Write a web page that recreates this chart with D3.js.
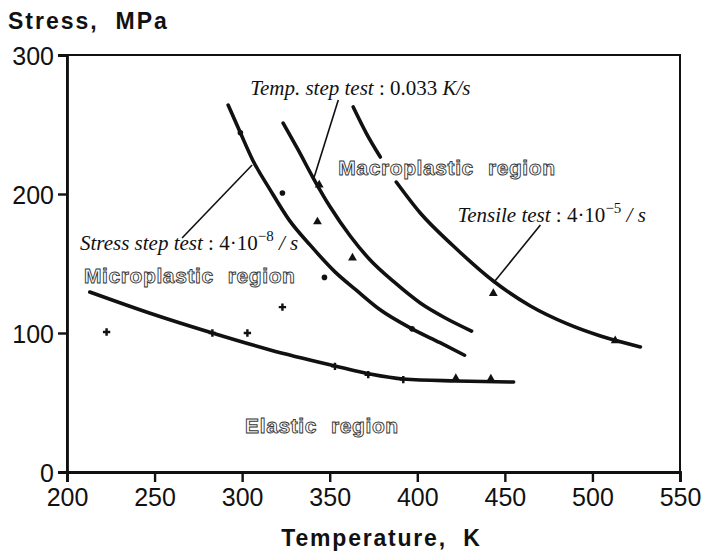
<!DOCTYPE html>
<html>
<head>
<meta charset="utf-8">
<script src="https://cdn.jsdelivr.net/npm/d3@7"></script>
<style>
  body { margin: 0; background: #fff; }
  svg { display: block; }
  .tick text { font-family: "Liberation Sans", Arial, sans-serif; }
</style>
</head>
<body>
<script>
// axis ticks
const xTicks = [200, 250, 300, 350, 400, 450, 500, 550];
const yTicks = [0, 100, 200, 300];

// fitted curves, [temperature K, stress MPa]
const microCurve = [[213, 129.5], [247, 114.4], [283, 100], [316, 87.8], [353, 76.3], [373, 70.5], [392, 66.9], [422, 65.5], [455, 64.7]];
const stressStepCurve = [[292, 264], [299, 244], [306, 224.5], [316, 203], [327, 181], [339, 163], [353, 144], [365, 131], [379, 116.5], [397, 103], [413, 93], [427, 84]];
const tempStepCurve = [[323.4, 251], [332, 231.7], [340.6, 211.5], [350.3, 190.6], [361.7, 169.8], [373.1, 152.5], [387.4, 136], [401.7, 121.6], [416, 110.8], [431, 101.4]];
const tensileTop = [[363.4, 262.6], [371, 243.5], [378.9, 226.6]];
const tensileCurve = [[388, 208.6], [401.7, 186.3], [420.6, 162.6], [443.4, 137.4], [464.6, 119.4], [485.7, 106.5], [504.6, 97.8], [527.4, 90]];

// measured points
const crossPts = [[222.6, 100.7], [283, 100], [303, 100], [323, 118.6], [353, 76], [372, 70], [392, 66.5]];
const dotPts = [[299, 244], [323, 200.7], [347, 140], [397, 103]];
const triPts = [[344, 206.5], [343, 180], [363, 154], [443.4, 128.5], [422, 67.3], [442, 67], [513, 94.5]];

// leader lines from the labels to the curves
const stressLeader = [[265.7, 168.3], [305.7, 220.9]];
const tempLeader = [[354.9, 267.6], [340.6, 210.1]];
const tensileLeader = [[470.3, 177.7], [443.4, 136]];

const width = 704, height = 554;
const margin = {top: 55, right: 24, bottom: 82, left: 67};

const svg = d3.select("body").append("svg")
    .attr("width", width)
    .attr("height", height);

const x = d3.scaleLinear().domain([200, 550]).range([margin.left, width - margin.right]);
const y = d3.scaleLinear().domain([0, 300]).range([height - margin.bottom, margin.top]);

// frame
svg.append("rect")
    .attr("x", x(200)).attr("y", y(300))
    .attr("width", x(550) - x(200)).attr("height", y(0) - y(300))
    .attr("fill", "none").attr("stroke", "#111").attr("stroke-width", 2);

const xAxis = svg.append("g")
    .attr("transform", `translate(0,${y(0)})`)
    .call(d3.axisBottom(x).tickValues(xTicks).tickSize(10).tickPadding(6));
const yAxis = svg.append("g")
    .attr("transform", `translate(${x(200)},0)`)
    .call(d3.axisLeft(y).tickValues(yTicks).tickSize(9).tickPadding(4));

[xAxis, yAxis].forEach(g => {
    g.select(".domain").attr("stroke", "#111").attr("stroke-width", 2.8);
    g.selectAll(".tick line").attr("stroke", "#111").attr("stroke-width", 2.4);
    g.selectAll(".tick text").attr("font-size", 25).attr("fill", "#111");
});
yAxis.selectAll(".tick text").attr("dy", "0.36em");

// axis titles
svg.append("text")
    .attr("x", 8).attr("y", 29)
    .attr("font-family", "Liberation Sans, Arial, sans-serif")
    .attr("font-weight", "bold").attr("font-size", 23)
    .attr("letter-spacing", 2)
    .attr("fill", "#111")
    .style("white-space", "pre")
    .text("Stress,  MPa");

svg.append("text")
    .attr("x", (x(200) + x(550)) / 2 + 8).attr("y", 546)
    .attr("text-anchor", "middle")
    .attr("font-family", "Liberation Sans, Arial, sans-serif")
    .attr("font-weight", "bold").attr("font-size", 23)
    .attr("letter-spacing", 1.8)
    .attr("fill", "#111")
    .style("white-space", "pre")
    .text("Temperature,  K");

// curves
const line = d3.line().x(d => x(d[0])).y(d => y(d[1])).curve(d3.curveMonotoneX);
[microCurve, stressStepCurve, tempStepCurve, tensileTop, tensileCurve].forEach(c => {
    svg.append("path")
        .attr("d", line(c))
        .attr("fill", "none")
        .attr("stroke", "#111")
        .attr("stroke-width", 3.6)
        .attr("stroke-linecap", "round");
});

// leaders
[stressLeader, tempLeader, tensileLeader].forEach(l => {
    svg.append("line")
        .attr("x1", x(l[0][0])).attr("y1", y(l[0][1]))
        .attr("x2", x(l[1][0])).attr("y2", y(l[1][1]))
        .attr("stroke", "#111").attr("stroke-width", 1.6);
});

// markers
svg.selectAll(".cross").data(crossPts).join("path")
    .attr("transform", d => `translate(${x(d[0])},${y(d[1])})`)
    .attr("d", d3.symbol(d3.symbolCross, 30))
    .attr("fill", "#111");
svg.selectAll(".dot").data(dotPts).join("circle")
    .attr("cx", d => x(d[0])).attr("cy", d => y(d[1]))
    .attr("r", 2.8)
    .attr("fill", "#111");
svg.selectAll(".tri").data(triPts).join("path")
    .attr("transform", d => `translate(${x(d[0])},${y(d[1])})`)
    .attr("d", d3.symbol(d3.symbolTriangle, 34))
    .attr("fill", "#111");

// serif annotations
function note(tx, ty, parts) {
    const t = svg.append("text")
        .attr("x", x(tx)).attr("y", y(ty))
        .attr("font-family", "Liberation Serif, Times New Roman, serif")
        .attr("font-size", 21)
        .attr("fill", "#111")
        .style("white-space", "pre");
    parts.forEach(p => {
        const s = t.append("tspan").text(p.t);
        if (p.i) s.attr("font-style", "italic");
        if (p.sup) s.attr("font-size", 15).attr("dy", -9);
        if (p.down) s.attr("dy", 9);
    });
}

note(304.6, 271.2, [{t: "Temp. step test", i: 1}, {t: " : 0.033 "}, {t: "K/s", i: 1}]);
note(207.4, 159.7, [{t: "Stress step test", i: 1}, {t: " : 4\u00b710"}, {t: "\u22128", sup: 1}, {t: " / s", i: 1, down: 1}]);
note(422.9, 179.9, [{t: "Tensile test", i: 1}, {t: " : 4\u00b710"}, {t: "\u22125", sup: 1}, {t: " / s", i: 1, down: 1}]);

// outlined region labels
function region(tx, ty, words, gap) {
    const t = svg.append("text")
        .attr("x", x(tx)).attr("y", y(ty))
        .attr("font-family", "Liberation Sans, Arial, sans-serif")
        .attr("font-weight", "bold")
        .attr("font-size", 21)
        .attr("letter-spacing", 0.6)
        .attr("fill", "#fff")
        .attr("stroke", "#333")
        .attr("stroke-width", 0.9);
    t.append("tspan").text(words[0]);
    t.append("tspan").attr("dx", gap).text(words[1]);
}

region(354.9, 213.7, ["Macroplastic", "region"], 14);
region(209.7, 136, ["Microplastic", "region"], 14);
region(301.7, 28, ["Elastic", "region"], 14);
</script>
</body>
</html>
